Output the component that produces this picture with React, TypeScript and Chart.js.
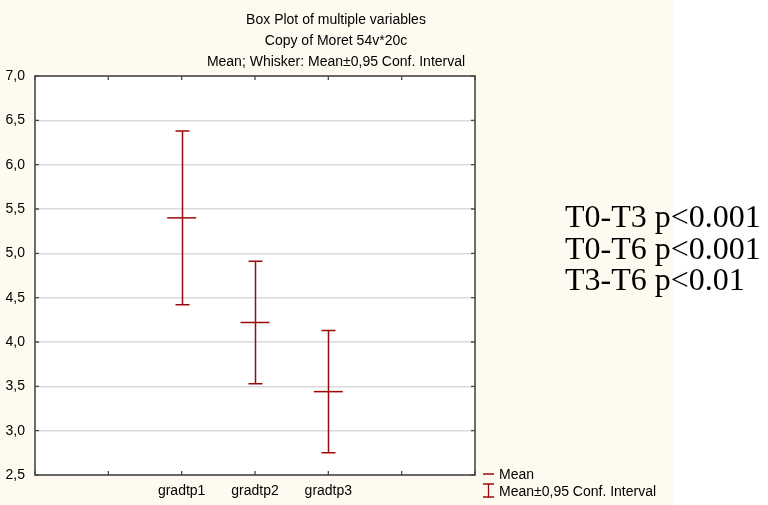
import React, { useEffect, useRef } from 'react';
import { Chart, registerables } from 'chart.js';

Chart.register(...registerables);

const categories = ['gradtp1', 'gradtp2', 'gradtp3'];
const categoryPositions = [2, 3, 4];
const means = [5.4, 4.22, 3.44];
const lowerCI = [4.42, 3.53, 2.75];
const upperCI = [6.38, 4.91, 4.13];
const yMin = 2.5;
const yMax = 7.0;
const yStep = 0.5;
const xMin = 0;
const xMax = 6;
const titleLines = [
  'Box Plot of multiple variables',
  'Copy of Moret 54v*20c',
  'Mean; Whisker: Mean\u00b10,95 Conf. Interval',
];
const annotations = ['T0-T3 p<0.001', 'T0-T6 p<0.001', 'T3-T6 p<0.01'];
const legendItems = ['Mean', 'Mean\u00b10,95 Conf. Interval'];

const RED = '#9a0a0a';
const CREAM = '#FFFAF0';
const FRAME = '#4a4a4a';
const SANS = '"Liberation Sans", Arial, sans-serif';
const SERIF = '"Liberation Serif", "Times New Roman", serif';

const decorPlugin = {
  id: 'decor',
  beforeDraw(chart: any) {
    const { ctx, chartArea } = chart;
    ctx.save();
    ctx.fillStyle = '#ffffff';
    ctx.fillRect(0, 0, chart.width, chart.height);
    ctx.fillStyle = CREAM;
    ctx.fillRect(0, 0, 673, chart.height);
    ctx.fillStyle = '#ffffff';
    ctx.fillRect(chartArea.left, chartArea.top, chartArea.right - chartArea.left, chartArea.bottom - chartArea.top);
    // titles
    ctx.fillStyle = '#000';
    ctx.font = '14px ' + SANS;
    ctx.textAlign = 'center';
    ctx.textBaseline = 'alphabetic';
    const ys = [24, 45, 66];
    titleLines.forEach((t, i) => ctx.fillText(t, 336, ys[i]));
    ctx.restore();
  },
  afterDatasetsDraw(chart: any) {
    const { ctx } = chart;
    const xs = chart.scales.x;
    const ys = chart.scales.y;
    ctx.save();
    ctx.strokeStyle = RED;
    ctx.lineWidth = 1.5;
    categoryPositions.forEach((p, i) => {
      const x = Math.round(xs.getPixelForValue(p)) + 0.5;
      const yl = ys.getPixelForValue(lowerCI[i]);
      const yu = ys.getPixelForValue(upperCI[i]);
      ctx.beginPath();
      ctx.moveTo(x, yl);
      ctx.lineTo(x, yu);
      ctx.moveTo(x - 7, yl);
      ctx.lineTo(x + 7, yl);
      ctx.moveTo(x - 7, yu);
      ctx.lineTo(x + 7, yu);
      ctx.stroke();
    });
    ctx.restore();
  },
  afterDraw(chart: any) {
    const { ctx, chartArea } = chart;
    const xs = chart.scales.x;
    const ys = chart.scales.y;
    ctx.save();
    // frame
    ctx.strokeStyle = FRAME;
    ctx.lineWidth = 1.6;
    ctx.strokeRect(chartArea.left, chartArea.top, chartArea.right - chartArea.left, chartArea.bottom - chartArea.top);
    // inward ticks
    ctx.lineWidth = 1.3;
    ctx.beginPath();
    ys.ticks.forEach((t: any) => {
      const y = ys.getPixelForValue(t.value);
      ctx.moveTo(chartArea.left, y);
      ctx.lineTo(chartArea.left + 4, y);
      ctx.moveTo(chartArea.right, y);
      ctx.lineTo(chartArea.right - 4, y);
    });
    xs.ticks.forEach((t: any) => {
      const x = xs.getPixelForValue(t.value);
      ctx.moveTo(x, chartArea.top);
      ctx.lineTo(x, chartArea.top + 4);
      ctx.moveTo(x, chartArea.bottom);
      ctx.lineTo(x, chartArea.bottom - 4);
    });
    ctx.stroke();
    // legend
    ctx.strokeStyle = RED;
    ctx.lineWidth = 1.3;
    ctx.beginPath();
    ctx.moveTo(483, 474);
    ctx.lineTo(494, 474);
    ctx.moveTo(488.5, 484);
    ctx.lineTo(488.5, 497);
    ctx.moveTo(483, 484);
    ctx.lineTo(494, 484);
    ctx.moveTo(483, 497);
    ctx.lineTo(494, 497);
    ctx.stroke();
    ctx.fillStyle = '#000';
    ctx.font = '14px ' + SANS;
    ctx.textAlign = 'left';
    ctx.textBaseline = 'alphabetic';
    ctx.fillText(legendItems[0], 499, 479);
    ctx.fillText(legendItems[1], 499, 496);
    // annotations
    ctx.font = '32px ' + SERIF;
    const ay = [227, 259, 290];
    annotations.forEach((t, i) => ctx.fillText(t, 565, ay[i]));
    ctx.restore();
  },
};

export default function App() {
  const ref = useRef<HTMLCanvasElement>(null);
  useEffect(() => {
    if (!ref.current) return;
    const chart = new Chart(ref.current, {
      type: 'scatter',
      data: {
        datasets: [
          {
            label: legendItems[0],
            data: categoryPositions.map((p, i) => ({ x: p, y: means[i] })),
            pointStyle: 'line',
            pointRadius: 14.5,
            pointHoverRadius: 14.5,
            borderColor: RED,
            backgroundColor: RED,
            borderWidth: 1.5,
            showLine: false,
          },
        ],
      },
      options: {
        responsive: false,
        animation: false,
        events: [],
        layout: { padding: { top: 76, right: 293, bottom: 0, left: 0 } },
        plugins: {
          legend: { display: false },
          tooltip: { enabled: false },
          title: { display: false },
        },
        scales: {
          x: {
            type: 'linear',
            min: xMin,
            max: xMax,
            afterFit: (s: any) => {
              s.height = 30;
            },
            grid: { display: false, drawTicks: false },
            border: { display: false },
            ticks: {
              stepSize: 1,
              padding: 8,
              color: '#000',
              font: { family: SANS, size: 14 },
              maxRotation: 0,
              autoSkip: false,
              callback: (v: any) => {
                const idx = categoryPositions.indexOf(Number(v));
                return idx >= 0 ? categories[idx] : '';
              },
            },
          },
          y: {
            type: 'linear',
            min: yMin,
            max: yMax,
            afterFit: (s: any) => {
              s.width = 35;
            },
            grid: { color: '#dadada', lineWidth: 1.5, drawTicks: false },
            border: { display: false },
            ticks: {
              stepSize: yStep,
              padding: 10,
              color: '#000',
              font: { family: SANS, size: 14 },
              callback: (v: any) => Number(v).toFixed(1).replace('.', ','),
            },
          },
        },
      },
      plugins: [decorPlugin],
    });
    return () => chart.destroy();
  }, []);
  return (
    <div style={{ position: 'fixed', left: 0, top: 0, width: 768, height: 505 }}>
      <canvas ref={ref} width={768} height={505} style={{ display: 'block' }} />
    </div>
  );
}
